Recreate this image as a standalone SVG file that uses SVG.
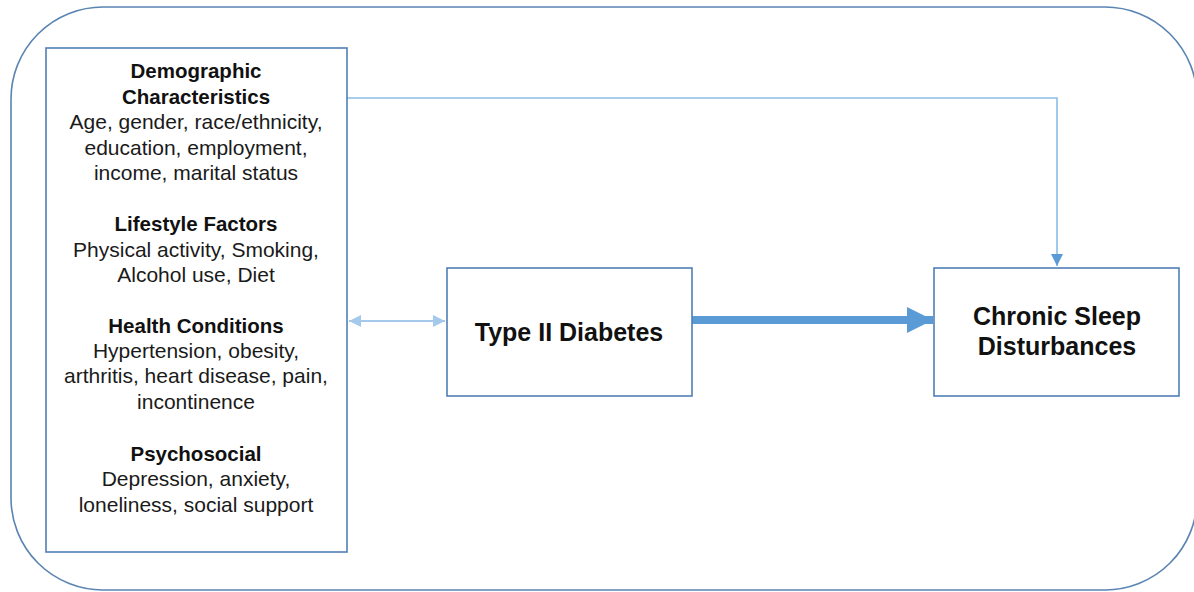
<svg xmlns="http://www.w3.org/2000/svg" width="1194" height="592" viewBox="0 0 1194 592">
  <defs>
    <style>
      .frame { fill: none; stroke: #5a84b2; stroke-width: 1.6; }
      .box { fill: #ffffff; stroke: #4f7fb5; stroke-width: 1.6; }
      .hd { font-family: "Liberation Sans", Arial, sans-serif; font-weight: bold; font-size: 20.5px; fill: #111111; text-anchor: middle; }
      .tx { font-family: "Liberation Sans", Arial, sans-serif; font-size: 21px; fill: #1a1a1a; text-anchor: middle; }
      .big { font-family: "Liberation Sans", Arial, sans-serif; font-weight: bold; font-size: 25px; fill: #111111; text-anchor: middle; }
      .thin { fill: none; stroke: #8bbce6; stroke-width: 1.6; }
      .dbl { fill: none; stroke: #a4c9ea; stroke-width: 2; }
      .thick { fill: none; stroke: #5b9bd5; stroke-width: 8; }
    </style>
    <marker id="tipThin" markerUnits="userSpaceOnUse" markerWidth="14" markerHeight="14" refX="12" refY="6" orient="auto">
      <path d="M0,0 L12,6 L0,12 Z" fill="#5b9bd5"/>
    </marker>
    <marker id="tipDbl" markerUnits="userSpaceOnUse" markerWidth="14" markerHeight="14" refX="12" refY="6" orient="auto-start-reverse">
      <path d="M0,0 L12,6 L0,12 Z" fill="#a4c9ea"/>
    </marker>
    <marker id="tipThick" markerUnits="userSpaceOnUse" markerWidth="28" markerHeight="28" refX="26" refY="13" orient="auto">
      <path d="M0,0 L26,13 L0,26 Z" fill="#5b9bd5"/>
    </marker>
  </defs>

  <rect width="1194" height="592" fill="#ffffff"/>

  <!-- enclosing rounded frame -->
  <rect class="frame" x="11" y="7" width="1186" height="583" rx="92" ry="92"/>

  <!-- connectors -->
  <g id="connectors">
    <path class="thin" d="M347,98 H1057 V266" marker-end="url(#tipThin)"/>
    <path class="dbl" d="M349,321 H445" marker-start="url(#tipDbl)" marker-end="url(#tipDbl)"/>
    <path class="thick" d="M692,320 H933" marker-end="url(#tipThick)"/>
  </g>

  <!-- covariates box -->
  <g id="covariates">
    <rect class="box" x="46" y="48" width="301" height="504"/>
    <text class="hd" x="196" y="78">Demographic</text>
    <text class="hd" x="196" y="104">Characteristics</text>
    <text class="tx" x="196" y="129">Age, gender, race/ethnicity,</text>
    <text class="tx" x="196" y="155">education, employment,</text>
    <text class="tx" x="196" y="180">income, marital status</text>
    <text class="hd" x="196" y="231">Lifestyle Factors</text>
    <text class="tx" x="196" y="257">Physical activity, Smoking,</text>
    <text class="tx" x="196" y="282">Alcohol use, Diet</text>
    <text class="hd" x="196" y="333">Health Conditions</text>
    <text class="tx" x="196" y="358">Hypertension, obesity,</text>
    <text class="tx" x="196" y="383">arthritis, heart disease, pain,</text>
    <text class="tx" x="196" y="409">incontinence</text>
    <text class="hd" x="196" y="461">Psychosocial</text>
    <text class="tx" x="196" y="486">Depression, anxiety,</text>
    <text class="tx" x="196" y="512">loneliness, social support</text>
  </g>

  <!-- exposure box -->
  <g id="diabetes">
    <rect class="box" x="447" y="268" width="245" height="128"/>
    <text class="big" x="569" y="341">Type II Diabetes</text>
  </g>

  <!-- outcome box -->
  <g id="sleep">
    <rect class="box" x="934" y="268" width="245" height="128"/>
    <text class="big" x="1057" y="325">Chronic Sleep</text>
    <text class="big" x="1057" y="355">Disturbances</text>
  </g>
</svg>
